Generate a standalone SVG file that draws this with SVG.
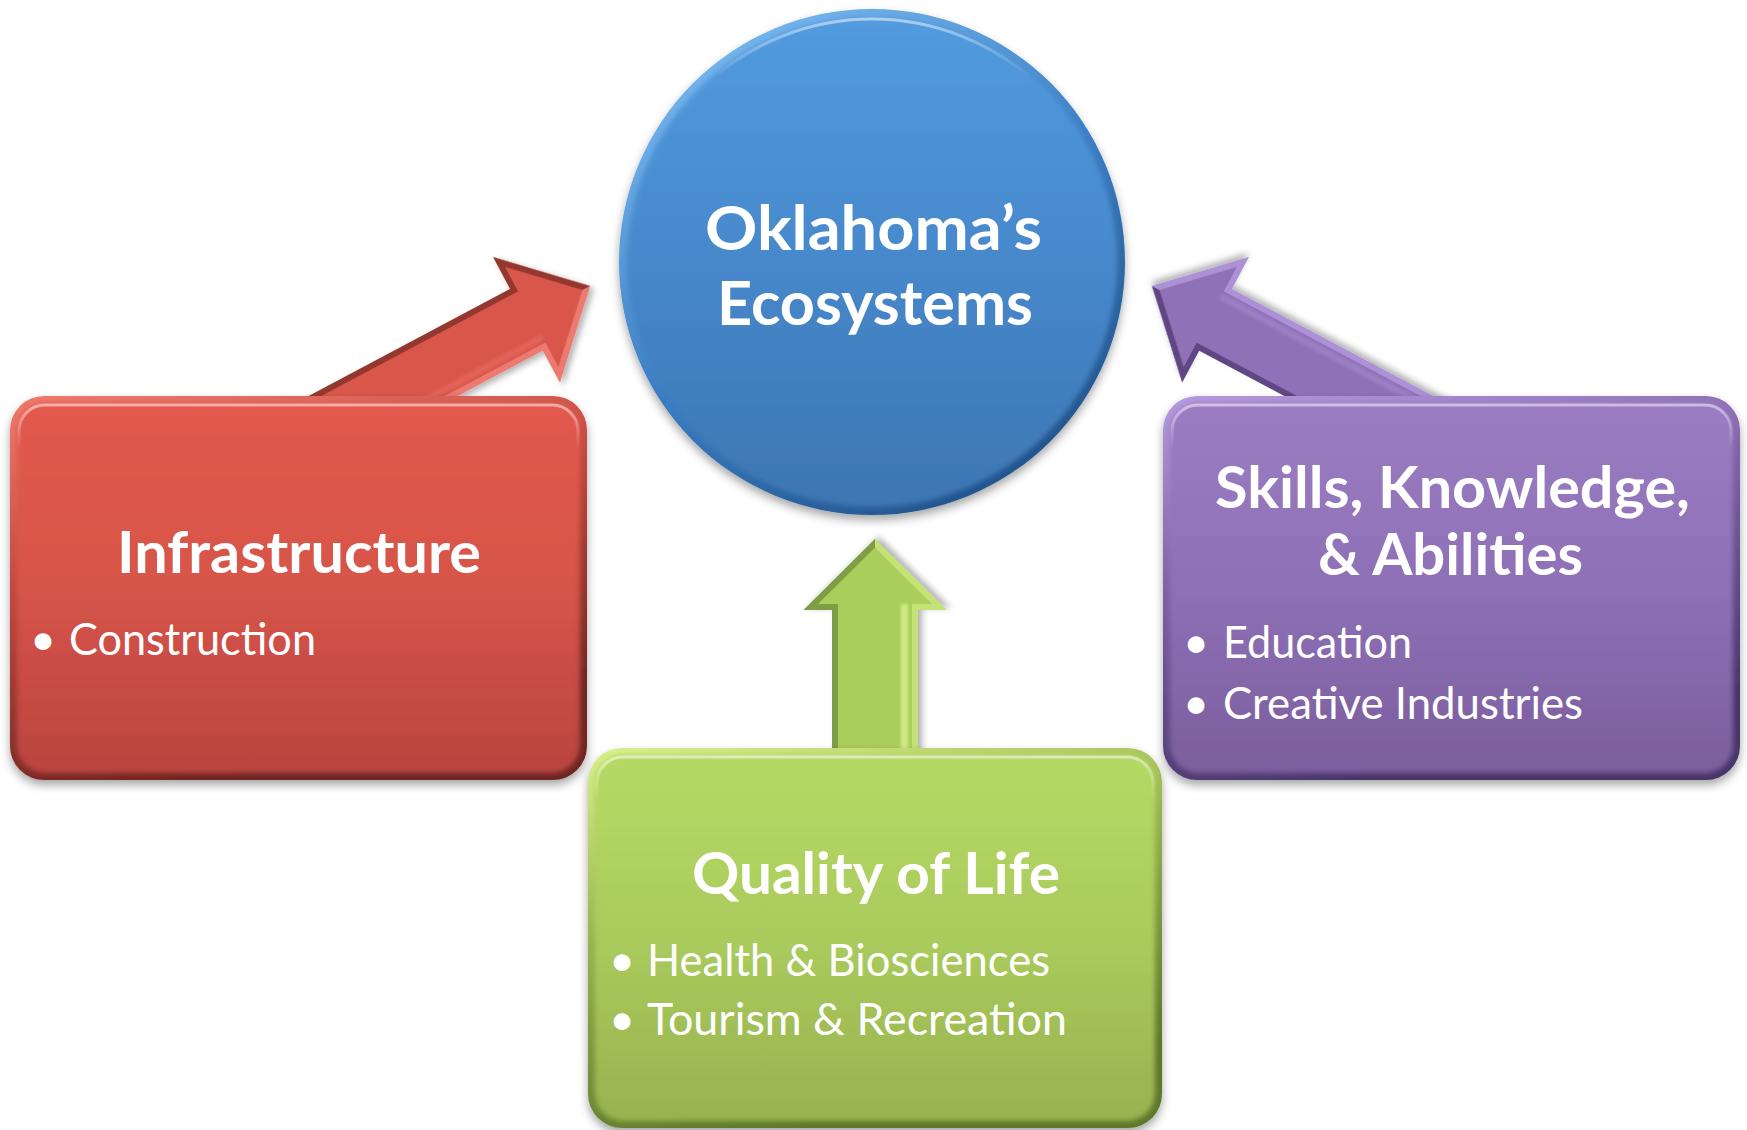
<svg xmlns="http://www.w3.org/2000/svg" width="1747" height="1130" viewBox="0 0 1747 1130">
<style>
  .h{font-family:Lato,"Liberation Sans",sans-serif;font-weight:700;fill:#fff;text-anchor:middle}
  .b{font-family:Lato,"Liberation Sans",sans-serif;font-weight:400;fill:#fff}
  .bul{font-family:Lato,"Liberation Sans",sans-serif;fill:#fff;text-anchor:middle}
  .hl{fill:none;stroke:url(#hl);stroke-width:3}
</style>
<defs>
  <filter id="shadow" x="-15%" y="-15%" width="130%" height="135%">
    <feDropShadow dx="0" dy="5" stdDeviation="5" flood-color="#000" flood-opacity="0.35"/>
  </filter>
  <filter id="soft" x="-5%" y="-5%" width="110%" height="110%">
    <feGaussianBlur stdDeviation="2.5"/>
  </filter>
  <filter id="stripe" x="-10%" y="-100%" width="120%" height="300%">
    <feGaussianBlur stdDeviation="1.8"/>
  </filter>
  <filter id="ashadow" x="-20%" y="-30%" width="140%" height="160%">
    <feDropShadow dx="2" dy="4" stdDeviation="3" flood-color="#000" flood-opacity="0.3"/>
  </filter>
  <linearGradient id="hl" x1="0" y1="0" x2="0" y2="1">
    <stop offset="0" stop-color="#fff" stop-opacity="0.5"/>
    <stop offset="0.12" stop-color="#fff" stop-opacity="0"/>
  </linearGradient>
  <linearGradient id="rEdge" x1="0" y1="0" x2="0.35" y2="1">
    <stop offset="0" stop-color="#f07b6e"/>
    <stop offset="0.45" stop-color="#c2483f"/>
    <stop offset="1" stop-color="#6e2521"/>
  </linearGradient>
  <linearGradient id="rFill" x1="0" y1="0" x2="0" y2="1">
    <stop offset="0" stop-color="#e35a4e"/>
    <stop offset="0.5" stop-color="#d65449"/>
    <stop offset="1" stop-color="#ba4440"/>
  </linearGradient>
  <linearGradient id="bEdge" x1="0.2" y1="0" x2="0.8" y2="1">
    <stop offset="0" stop-color="#7cbcf2"/>
    <stop offset="0.5" stop-color="#3c7ec4"/>
    <stop offset="1" stop-color="#1f4f85"/>
  </linearGradient>
  <linearGradient id="bFill" x1="0" y1="0" x2="0" y2="1">
    <stop offset="0" stop-color="#529bdf"/>
    <stop offset="0.5" stop-color="#4688cb"/>
    <stop offset="1" stop-color="#3d76b3"/>
  </linearGradient>
  <linearGradient id="gEdge" x1="0" y1="0" x2="0.35" y2="1">
    <stop offset="0" stop-color="#d8f08c"/>
    <stop offset="0.45" stop-color="#97b54e"/>
    <stop offset="1" stop-color="#5d782b"/>
  </linearGradient>
  <linearGradient id="gFill" x1="0" y1="0" x2="0" y2="1">
    <stop offset="0" stop-color="#b6d965"/>
    <stop offset="0.5" stop-color="#aacb5c"/>
    <stop offset="1" stop-color="#98b250"/>
  </linearGradient>
  <linearGradient id="pEdge" x1="0" y1="0" x2="0.35" y2="1">
    <stop offset="0" stop-color="#b79ae0"/>
    <stop offset="0.45" stop-color="#7e62a6"/>
    <stop offset="1" stop-color="#49356a"/>
  </linearGradient>
  <linearGradient id="pFill" x1="0" y1="0" x2="0" y2="1">
    <stop offset="0" stop-color="#9b7dc2"/>
    <stop offset="0.5" stop-color="#8e70b6"/>
    <stop offset="1" stop-color="#7b5e9d"/>
  </linearGradient>
</defs>

<g id="connectors">
  <g id="arrow-infrastructure" transform="translate(590,286) rotate(-28)" filter="url(#ashadow)">
    <polygon points="0,0 -72,-71 -72,-35 -330,-35 -330,35 -72,35 -72,71" fill="#d9564b"/>
    <polygon points="0,0 -72,-71 -72,-35 -330,-35 -330,-29 -66,-29 -66,-56.7 -8.5,0" fill="#93382f"/>
    <polygon points="0,0 -72,71 -72,35 -330,35 -330,29 -66,29 -66,56.7 -8.5,0" fill="#ec7a6f"/>
    <rect x="-330" y="20" width="264" height="6" fill="#ea6d62" opacity="0.6" filter="url(#stripe)"/>
  </g>
  <g id="arrow-skills" transform="translate(1152,286) rotate(-152)" filter="url(#ashadow)">
    <polygon points="0,0 -72,-71 -72,-35 -330,-35 -330,35 -72,35 -72,71" fill="#8f71b8"/>
    <polygon points="0,0 -72,-71 -72,-35 -330,-35 -330,-29 -66,-29 -66,-56.7 -8.5,0" fill="#5e4683"/>
    <polygon points="0,0 -72,71 -72,35 -330,35 -330,29 -66,29 -66,56.7 -8.5,0" fill="#ad91d6"/>
    <rect x="-330" y="20" width="264" height="6" fill="#a68acf" opacity="0.6" filter="url(#stripe)"/>
  </g>
  <g id="arrow-quality" transform="translate(875,539) rotate(-90)" filter="url(#ashadow)">
    <polygon points="0,0 -71,-71.5 -71,-43 -230,-43 -230,43 -71,43 -71,71.5" fill="#aacd5c"/>
    <polygon points="0,0 -71,-71.5 -71,-43 -230,-43 -230,-37 -65,-37 -65,-57 -8.5,0" fill="#7f9d46"/>
    <polygon points="0,0 -71,71.5 -71,43 -230,43 -230,37 -65,37 -65,57 -8.5,0" fill="#c4e276"/>
    <rect x="-230" y="26" width="165" height="7" fill="#dcf590" opacity="0.75" filter="url(#stripe)"/>
  </g>
</g>

<g id="ecosystems">
  <circle cx="872" cy="262" r="253" fill="url(#bEdge)" filter="url(#shadow)"/>
  <circle cx="872" cy="262" r="245" fill="url(#bFill)" filter="url(#soft)"/>
  <circle cx="872" cy="262" r="243" class="hl"/>
  <text class="h" x="873.5" y="250" font-size="62" textLength="337" lengthAdjust="spacingAndGlyphs">Oklahoma’s</text>
  <text class="h" x="875" y="325" font-size="62" textLength="316" lengthAdjust="spacingAndGlyphs">Ecosystems</text>
</g>

<g id="infrastructure">
  <rect x="10" y="396" width="577" height="384" rx="34" fill="url(#rEdge)" filter="url(#shadow)"/>
  <rect x="17" y="403" width="563" height="370" rx="28" fill="url(#rFill)" filter="url(#soft)"/>
  <rect x="19" y="405" width="559" height="366" rx="26" class="hl"/>
  <text class="h" x="299" y="573" font-size="58" textLength="364" lengthAdjust="spacingAndGlyphs">Infrastructure</text>
  <text class="bul" x="43" y="655" font-size="45">•</text>
  <text class="b" x="69" y="655" font-size="45" textLength="247" lengthAdjust="spacingAndGlyphs">Construction</text>
</g>

<g id="skills">
  <rect x="1163" y="396" width="577" height="384" rx="34" fill="url(#pEdge)" filter="url(#shadow)"/>
  <rect x="1170" y="403" width="563" height="370" rx="28" fill="url(#pFill)" filter="url(#soft)"/>
  <rect x="1172" y="405" width="559" height="366" rx="26" class="hl"/>
  <text class="h" x="1452.5" y="508" font-size="58" textLength="475" lengthAdjust="spacingAndGlyphs">Skills, Knowledge,</text>
  <text class="h" x="1450.5" y="575" font-size="58" textLength="265" lengthAdjust="spacingAndGlyphs">&amp; Abilities</text>
  <text class="bul" x="1196" y="658" font-size="45">•</text>
  <text class="b" x="1223" y="658" font-size="45" textLength="189" lengthAdjust="spacingAndGlyphs">Education</text>
  <text class="bul" x="1196" y="719" font-size="45">•</text>
  <text class="b" x="1223" y="719" font-size="45" textLength="360" lengthAdjust="spacingAndGlyphs">Creative Industries</text>
</g>

<g id="quality">
  <rect x="588" y="748" width="574" height="380" rx="34" fill="url(#gEdge)" filter="url(#shadow)"/>
  <rect x="595" y="755" width="560" height="366" rx="28" fill="url(#gFill)" filter="url(#soft)"/>
  <rect x="597" y="757" width="556" height="362" rx="26" class="hl"/>
  <text class="h" x="876" y="894" font-size="58" textLength="368" lengthAdjust="spacingAndGlyphs">Quality of Life</text>
  <text class="bul" x="622" y="976" font-size="45">•</text>
  <text class="b" x="647" y="976" font-size="45" textLength="403" lengthAdjust="spacingAndGlyphs">Health &amp; Biosciences</text>
  <text class="bul" x="622" y="1035" font-size="45">•</text>
  <text class="b" x="647" y="1035" font-size="45" textLength="420" lengthAdjust="spacingAndGlyphs">Tourism &amp; Recreation</text>
</g>
</svg>
